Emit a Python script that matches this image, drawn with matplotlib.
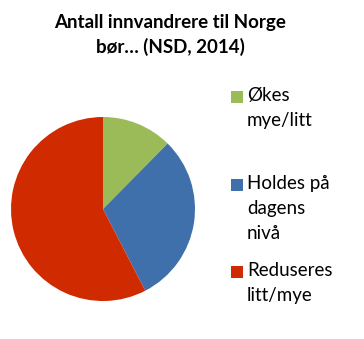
import matplotlib
matplotlib.use("Agg")
import matplotlib.pyplot as plt
from matplotlib.patches import Rectangle

# andeler lest av bildet (prosent)
labels = ["Økes\nmye/litt", "Holdes på\ndagens\nnivå", "Reduseres\nlitt/mye"]
values = [12.4, 30.0, 57.6]
colors = ["#9BBB59", "#3F70AB", "#D02A00"]
title = "Antall innvandrere til Norge\nbør… (NSD, 2014)"

W, H = 364, 339
fig = plt.figure(figsize=(W / 100, H / 100), dpi=100)

# kake
ax = fig.add_axes([11 / W, 1 - 301 / H, 184 / W, 184 / H])
ax.pie(values, colors=colors, startangle=90, counterclock=False,
       radius=1, wedgeprops=dict(linewidth=0))
ax.set_xlim(-1, 1)
ax.set_ylim(-1, 1)
ax.axis("off")

fig.text(170 / W, 1 - 35 / H, title, ha="center", va="center",
         fontsize=13.5, fontweight="bold", family="Lato", linespacing=1.4)

# legende, laget for hand
tops = [97, 185, 272]
for lab, col, y in zip(labels, colors, tops):
    fig.patches.append(Rectangle((231 / W, 1 - (y + 6) / H), 12 / W, 12 / H,
                                 facecolor=col, transform=fig.transFigure))
    fig.text(247 / W, 1 - (y - 10) / H, lab, ha="left", va="top",
             fontsize=13.5, family="Lato", linespacing=1.58)

fig.savefig("out.png", dpi=100)
